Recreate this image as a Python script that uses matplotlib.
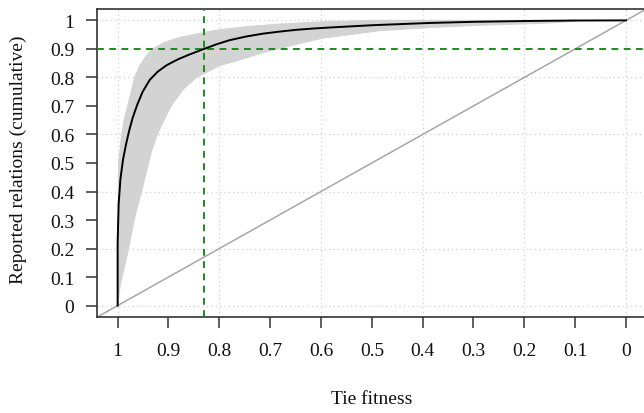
import matplotlib
matplotlib.use("Agg")
import matplotlib.pyplot as plt

# ---- data ----
# mean cumulative curve (black)
mean_fitness = [1.0, 1.0, 0.998, 0.9945, 0.9892, 0.9833, 0.9774, 0.9705, 0.9616,
                0.951, 0.937, 0.921, 0.9035, 0.8819, 0.858, 0.830, 0.805, 0.780,
                0.747, 0.714, 0.680, 0.648, 0.615, 0.583, 0.50, 0.386, 0.30,
                0.189, 0.10, 0.0]
mean_cum = [0.0, 0.2205, 0.357, 0.4445, 0.5145, 0.567, 0.6125, 0.658, 0.7035,
            0.749, 0.791, 0.8205, 0.843, 0.863, 0.881, 0.90, 0.9165, 0.9305,
            0.9435, 0.9535, 0.961, 0.967, 0.9715, 0.975, 0.983, 0.991, 0.995,
            0.998, 0.9995, 1.0]

# envelope of the individual (grey) curves
upper_fitness = [1.0, 0.999, 0.998, 0.992, 0.987, 0.98, 0.972, 0.9665, 0.957,
                 0.9435, 0.9305, 0.9075, 0.878, 0.812, 0.747, 0.681, 0.60,
                 0.50, 0.10]
upper_cum = [0.0, 0.30, 0.5, 0.6, 0.655, 0.70, 0.76, 0.80, 0.84,
             0.876, 0.90, 0.923, 0.94, 0.964, 0.978, 0.987, 0.995,
             1.0, 1.0]
lower_fitness = [1.0, 0.995, 0.98, 0.967, 0.950, 0.934, 0.922, 0.9075, 0.895,
                 0.870, 0.845, 0.800, 0.765, 0.712, 0.685, 0.642, 0.596,
                 0.484, 0.386, 0.287, 0.163, 0.097]
lower_cum = [0.0, 0.071, 0.188, 0.305, 0.421, 0.538, 0.60, 0.655, 0.70,
             0.76, 0.80, 0.841, 0.859, 0.888, 0.90, 0.919, 0.938,
             0.964, 0.975, 0.983, 0.99, 0.997]

# reference lines
ref_fitness = 0.831
ref_cum = 0.9

xticks = [1, 0.9, 0.8, 0.7, 0.6, 0.5, 0.4, 0.3, 0.2, 0.1, 0]
xticklabels = ["1", "0.9", "0.8", "0.7", "0.6", "0.5", "0.4", "0.3", "0.2", "0.1", "0"]
yticks = [0, 0.1, 0.2, 0.3, 0.4, 0.5, 0.6, 0.7, 0.8, 0.9, 1]
yticklabels = ["0", "0.1", "0.2", "0.3", "0.4", "0.5", "0.6", "0.7", "0.8", "0.9", "1"]
grid_vals = [0, 0.2, 0.4, 0.6, 0.8, 1.0]

plt.rcParams['font.family'] = ['Liberation Serif', 'DejaVu Serif']

fig = plt.figure(figsize=(6.44, 4.14), dpi=100)
ax = fig.add_axes([0.1511, 0.2319, 0.8525, 0.744])
ax.set_xlim(1.04, -0.04)
ax.set_ylim(-0.04, 1.04)

# grid
for g in grid_vals:
    ax.axvline(g, color='#d0d0d0', lw=0.9, ls=(0, (1, 2.5)), zorder=0)
    ax.axhline(g, color='#d0d0d0', lw=0.9, ls=(0, (1, 2.5)), zorder=0)

# grey band of individual curves
poly_x = list(upper_fitness) + list(reversed(lower_fitness))
poly_y = list(upper_cum) + list(reversed(lower_cum))
ax.fill(poly_x, poly_y, color='#d3d3d3', lw=0, zorder=1)
ax.plot(upper_fitness, upper_cum, color='#d3d3d3', lw=0.8, zorder=1)
ax.plot(lower_fitness, lower_cum, color='#d3d3d3', lw=0.8, zorder=1)

# diagonal
ax.axline((1, 0), (0, 1), color='#a6a6a6', lw=1.1, zorder=2)

# green dashed reference lines
ax.axvline(ref_fitness, color='#1f8a1f', lw=1.4, ls=(0, (3.5, 2.8)), zorder=3)
ax.axhline(ref_cum, color='#1f8a1f', lw=1.4, ls=(0, (3.5, 2.8)), zorder=3)

# mean curve
ax.plot(mean_fitness, mean_cum, color='black', lw=1.4, zorder=4)

ax.set_xticks(xticks)
ax.set_xticklabels(xticklabels)
ax.set_yticks(yticks)
ax.set_yticklabels(yticklabels)
ax.tick_params(axis='both', direction='out', length=8, width=1.1,
               labelsize=14, color='#333333', labelcolor='#111111')
ax.tick_params(axis='x', pad=10)
ax.tick_params(axis='y', pad=8.5)

for s in ['top', 'left', 'bottom', 'right']:
    ax.spines[s].set_color('#333333')
    ax.spines[s].set_linewidth(1.2)

fig.text(18 / 644, 1 - 160 / 414, "Reported relations (cumulative)", rotation=90,
         ha='center', va='center', fontsize=14, color='#111111')
fig.text(372 / 644, 1 - 399.5 / 414, "Tie fitness", ha='center', va='center',
         fontsize=14, color='#111111')

fig.savefig("out.png", dpi=100)
